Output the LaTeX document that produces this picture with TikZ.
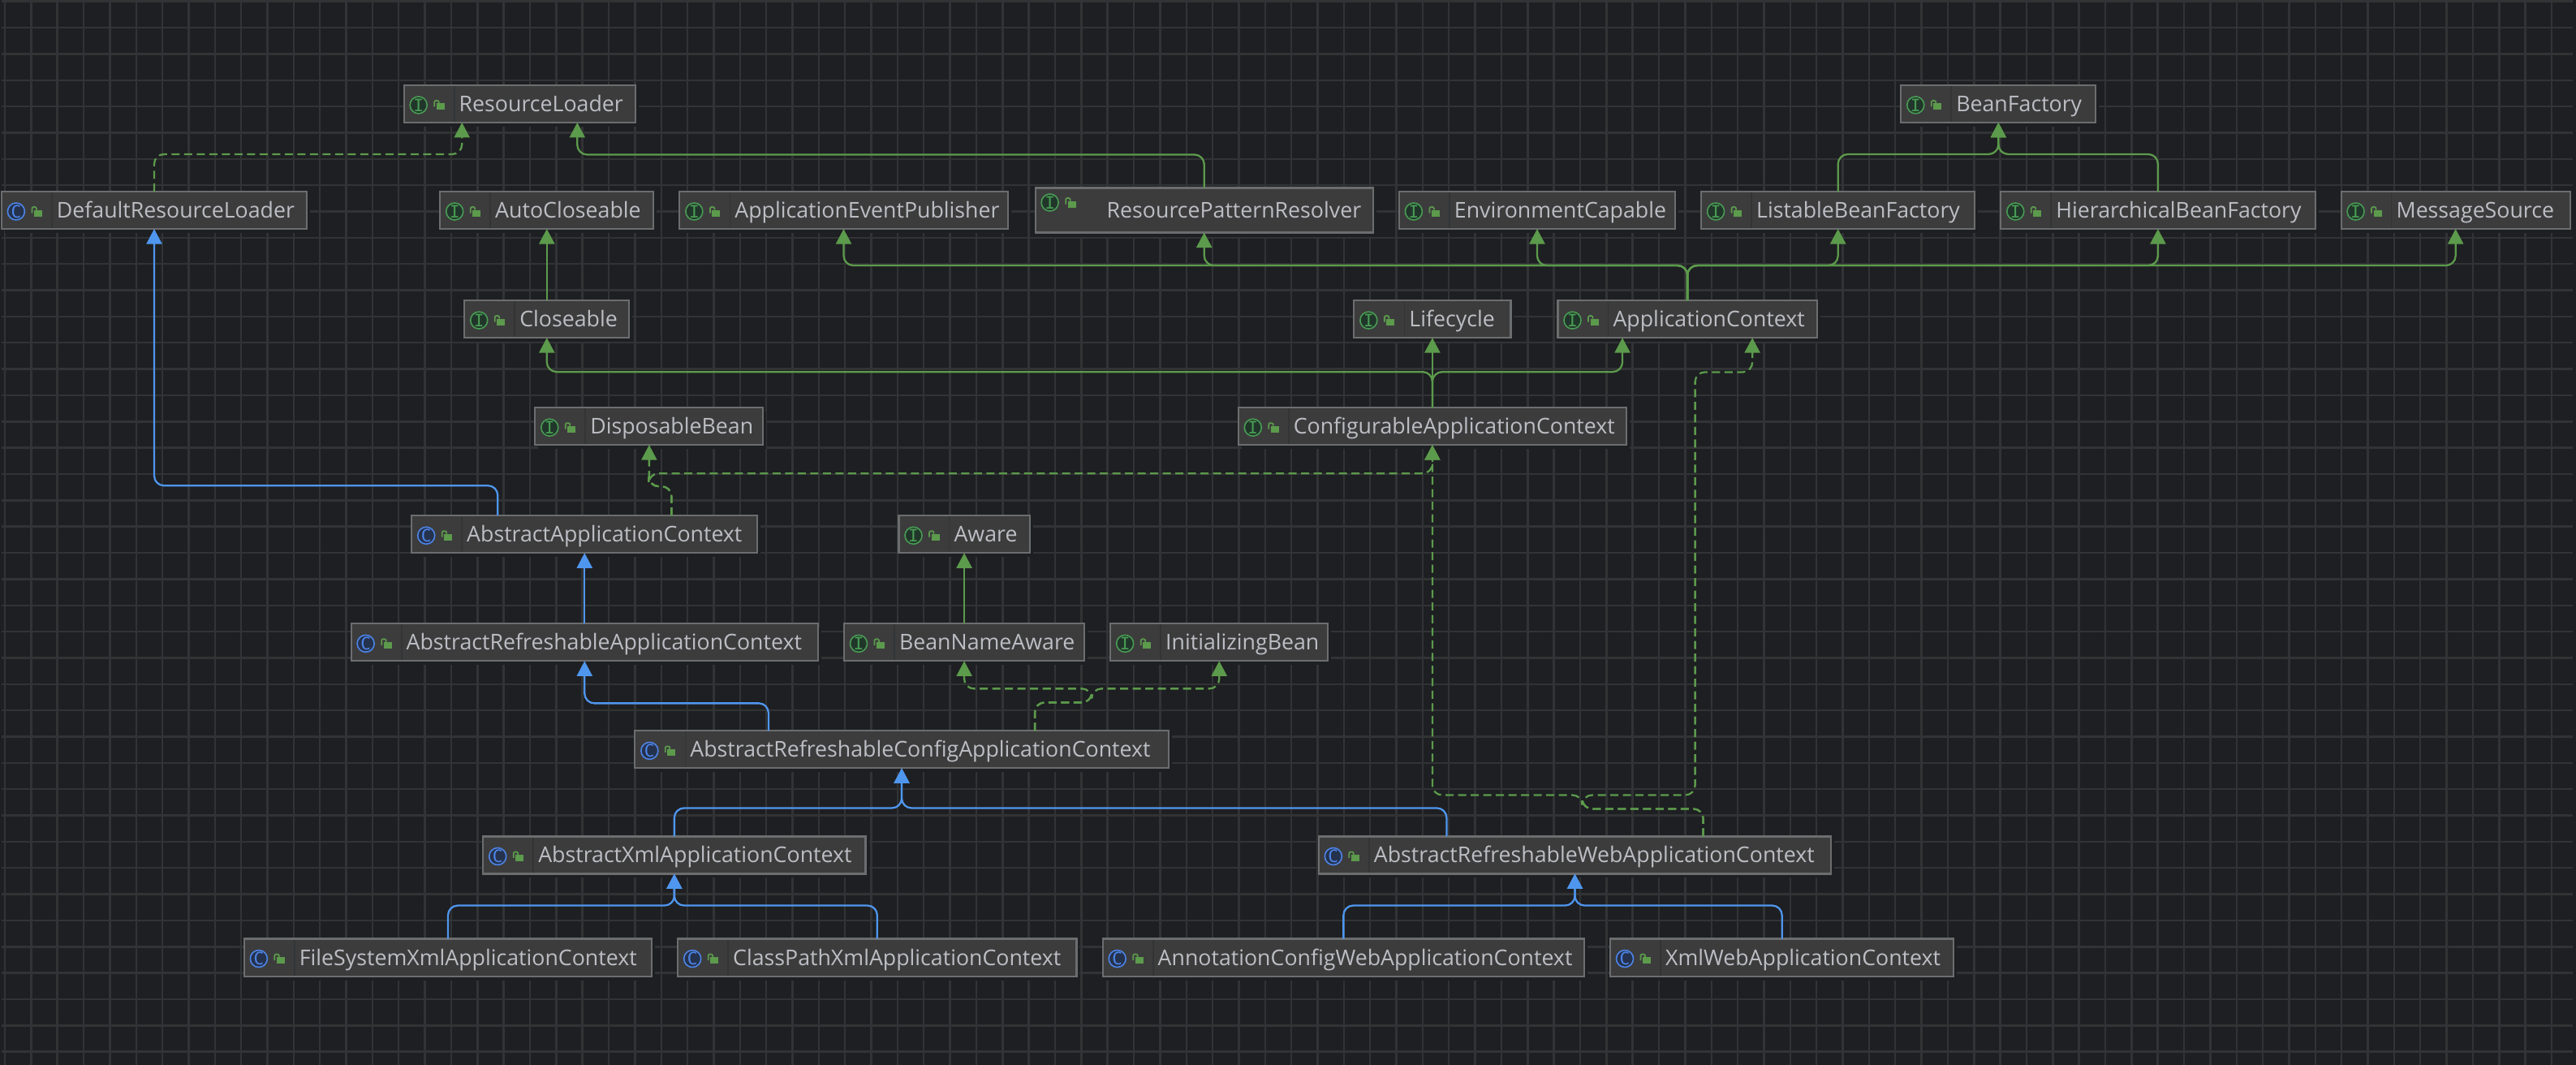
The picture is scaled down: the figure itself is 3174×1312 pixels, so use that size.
\documentclass[tikz,border=0pt]{standalone}
\usepackage{fontspec}
\setmainfont{Open Sans}
\newfontfamily\iconfont{DejaVu Sans Mono}
\usetikzlibrary{arrows.meta,positioning,shadows}

\definecolor{canvasbg}{HTML}{1E1F22}
\definecolor{gridcol}{HTML}{313335}
\definecolor{boxfill}{HTML}{3C3C3D}
\definecolor{boxline}{HTML}{6C6D6E}
\definecolor{boxdiv}{HTML}{333435}
\definecolor{labelcol}{HTML}{BCBEC4}
\definecolor{extgreen}{HTML}{5C9A4C}
\definecolor{inhblue}{HTML}{4F96EE}
\definecolor{ringgreen}{HTML}{499C54}
\definecolor{discgreen}{HTML}{21362A}
\definecolor{ringblue}{HTML}{4D85E8}
\definecolor{discblue}{HTML}{25324D}

\newcommand{\boxicon}[4]{%
  \begin{scope}[shift={(path picture bounding box.west)}]
    \draw[#2,fill=#3,line width=.45pt] (18,#4) circle (.105cm);
    {\pgftransformshift{\pgfpointxy{18}{#4}}\pgftext{\color{#2}\iconfont\fontsize{6pt}{6pt}\selectfont #1}}
    \fill[extgreen] (40,{#4-2}) rectangle (50,{#4+6});
    \draw[extgreen,line width=.5pt,rounded corners=.02cm] (37.5,{#4+2}) -- (37.5,{#4-5.5}) -- (43,{#4-5.5}) -- (43,{#4-2});
  \end{scope}
}
\newcommand{\boxdivider}{%
  \draw[boxdiv,line width=.5pt] ([xshift=.62cm]path picture bounding box.north west) -- ([xshift=.62cm]path picture bounding box.south west);
}

\begin{document}
\begin{tikzpicture}[
  x=.01cm,y=-.01cm,
  font=\fontsize{7.6pt}{9pt}\selectfont,
  gridline/.style={gridcol,line width=.7pt},
  w/.style={minimum width=#1,text width=#1},
  textpad/.style={execute at begin node=\hspace*{#1}},
  boxbase/.style={draw=boxline,fill=boxfill,line width=.6pt,text=labelcol,inner xsep=0pt,inner ysep=0pt,outer sep=0pt,
    minimum height=.46cm,text height=.19cm,text depth=0pt,align=left,
    general shadow={fill=canvasbg,shadow xshift=.04cm,shadow yshift=-.05cm}},
  itf/.style={boxbase,textpad=.68cm,path picture={\boxicon{I}{ringgreen}{discgreen}{-8}\boxdivider}},
  cls/.style={boxbase,textpad=.68cm,path picture={\boxicon{C}{ringblue}{discblue}{-8}\boxdivider}},
  itfwide/.style={boxbase,textpad=.88cm,minimum height=.55cm,
    path picture={\boxicon{I}{ringgreen}{discgreen}{-19}}},
  link/.style={line width=.65pt,rounded corners=.12cm},
  ext/.style={link,extgreen,-{Triangle[length=1.85mm,width=1.9mm]}},
  impl/.style={ext,dash pattern=on .1cm off .055cm},
  inh/.style={link,inhblue,-{Triangle[length=1.85mm,width=1.9mm]}}
]
\useasboundingbox (0,0) rectangle (3174,1312);
\fill[canvasbg] (0,0) rectangle (3174,1312);
\foreach \k in {0,...,97} \draw[gridline] ({6+32.35*\k},0) -- ({6+32.35*\k},1312);
\foreach \k in {0,...,40} \draw[gridline] (2,{1.7+32.35*\k}) -- (3170,{1.7+32.35*\k});

% second row, left to right
\node[cls,w=3.76cm] (drl) at (190,259) {DefaultResourceLoader};
\node[itf,w=2.63cm,right=1.64cm of drl] (ac) {AutoCloseable};
\node[itf,w=4.04cm,right=.32cm of ac] (aep) {ApplicationEventPublisher};
\node[itfwide,w=4.16cm,right=.34cm of aep] (rpr) {ResourcePatternResolver};
\node[itf,w=3.40cm,right=.32cm of rpr] (ec) {EnvironmentCapable};
\node[itf,w=3.37cm,right=.32cm of ec] (lbf) {ListableBeanFactory};
\node[itf,w=3.87cm,right=.32cm of lbf] (hbf) {HierarchicalBeanFactory};
\node[itf,w=2.82cm,right=.32cm of hbf] (ms) {MessageSource};
% top row
\node[itf,w=2.85cm,above=.85cm of ac,xshift=-.335cm] (rl) {ResourceLoader};
\node[itf,w=2.40cm,above=.85cm of lbf,xshift=1.975cm] (bf) {BeanFactory};
% contexts
\node[itf,w=2.03cm,below=.88cm of ac] (cl) {Closeable};
\node[itf,w=1.93cm,below=.88cm of ec,xshift=-1.29cm] (lc) {Lifecycle};
\node[itf,w=3.19cm,right=.58cm of lc] (ctx) {ApplicationContext};
\node[itf,w=4.78cm,below=.86cm of lc] (cac) {ConfigurableApplicationContext};
\node[itf,w=2.81cm,left=5.85cm of cac] (db) {DisposableBean};
\node[cls,w=4.26cm,below=.87cm of db,xshift=-.795cm] (aac) {AbstractApplicationContext};
\node[itf,w=1.61cm,right=1.74cm of aac] (aw) {Aware};
\node[cls,w=5.75cm,below=.87cm of aac] (arac) {AbstractRefreshableApplicationContext};
\node[itf,w=2.96cm,below=.87cm of aw] (bna) {BeanNameAware};
\node[itf,w=2.68cm,right=.32cm of bna] (inb) {InitializingBean};
\node[cls,w=6.57cm,below=.86cm of bna,xshift=-.77cm] (arcc) {AbstractRefreshableConfigApplicationContext};
\node[cls,w=4.71cm,below=.84cm of arcc,xshift=-2.80cm] (axac) {AbstractXmlApplicationContext};
\node[cls,w=6.31cm,right=5.58cm of axac] (arwc) {AbstractRefreshableWebApplicationContext};
% bottom row
\node[cls,w=5.02cm,below=.80cm of axac,xshift=-2.787cm] (fsx) {FileSystemXmlApplicationContext};
\node[cls,w=4.91cm,right=.32cm of fsx] (cpx) {ClassPathXmlApplicationContext};
\node[cls,w=5.93cm,below=.80cm of arwc,xshift=-2.85cm] (acw) {AnnotationConfigWebApplicationContext};
\node[cls,w=4.23cm,right=.32cm of acw] (xwc) {XmlWebApplicationContext};

\draw[impl] (drl.north) -- ++(0,-46) -| ([xshift=-.71cm]rl.south);
\draw[ext] (rpr.north) -- ++(0,-41) -| ([xshift=.71cm]rl.south);
\draw[ext] (lbf.north) -- ++(0,-46) -| (bf.south);
\draw[ext] (hbf.north) -- ++(0,-46) -| (bf.south);
\draw[ext] (cl.north) -- (ac.south);
\draw[ext] (ctx.north) -- ++(0,-43) -| (aep.south);
\draw[ext] (ctx.north) -- ++(0,-43) -| (rpr.south);
\draw[ext] (ctx.north) -- ++(0,-43) -| (ec.south);
\draw[ext] (ctx.north) -- ++(0,-43) -| (lbf.south);
\draw[ext] (ctx.north) -- ++(0,-43) -| (hbf.south);
\draw[ext] (ctx.north) -- ++(0,-43) -| (ms.south);
\draw[ext] (cac.north) -- (lc.south);
\draw[ext] (cac.north) -- ++(0,-44) -| (cl.south);
\draw[ext] (cac.north) -- ++(0,-44) -| ([xshift=-.80cm]ctx.south);
\draw[inh] ([xshift=-1.07cm]aac.north) -- ++(0,-37) -| (drl.south);
\draw[impl] ([xshift=1.07cm]aac.north) -- ++(0,-36) -| (db.south);
\draw[impl] ([xshift=1.07cm]aac.north) -- ++(0,-36) -- ++(-28,0) -- ++(0,-16) -| (cac.south);
\draw[inh] (arac.north) -- (aac.south);
\draw[ext] (bna.north) -- (aw.south);
\draw[inh] ([xshift=-1.64cm]arcc.north) -- ++(0,-34) -| (arac.south);
\draw[impl] ([xshift=1.64cm]arcc.north) -- ++(0,-35) -- ++(70,0) -- ++(0,-17) -| (bna.south);
\draw[impl] ([xshift=1.64cm]arcc.north) -- ++(0,-35) -- ++(70,0) -- ++(0,-17) -| (inb.south);
\draw[inh] (axac.north) -- ++(0,-35) -| (arcc.south);
\draw[inh] ([xshift=-1.58cm]arwc.north) -- ++(0,-35) -| (arcc.south);
\draw[impl] ([xshift=1.58cm]arwc.north) -- ++(0,-34) -- ++(-149,0) -- ++(0,-17) -| (cac.south);
\draw[impl] ([xshift=1.58cm]arwc.north) -- ++(0,-34) -- ++(-149,0) -- ++(0,-17) -- ++(139,0) -- ++(0,-521) -| ([xshift=.80cm]ctx.south);
\draw[inh] (fsx.north) -- ++(0,-41) -| (axac.south);
\draw[inh] (cpx.north) -- ++(0,-41) -| (axac.south);
\draw[inh] (acw.north) -- ++(0,-41) -| (arwc.south);
\draw[inh] (xwc.north) -- ++(0,-41) -| (arwc.south);
\end{tikzpicture}
\end{document}
